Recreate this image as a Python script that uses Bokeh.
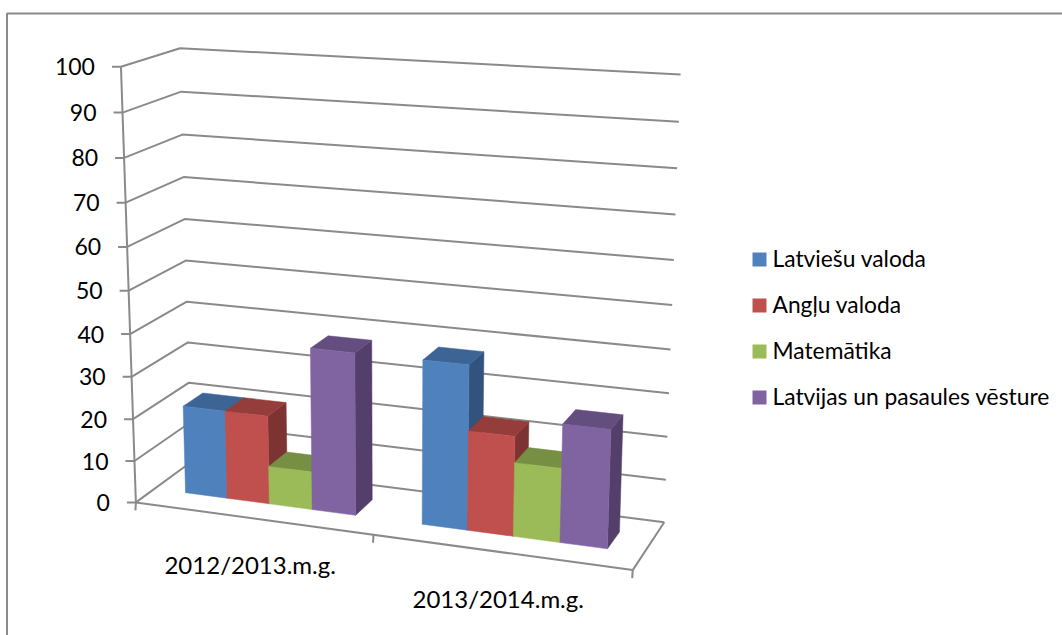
import numpy as np
from bokeh.plotting import figure
from bokeh.embed import file_html
from bokeh.resources import INLINE
from bokeh.core.properties import value

categories = ["2012/2013.m.g.", "2013/2014.m.g."]
series_names = ["Latviešu valoda", "Angļu valoda", "Matemātika", "Latvijas un pasaules vēsture"]
latviesu = [21, 38]
anglu = [21, 23]
matematika = [9, 17]
vesture = [38, 27]
y_ticks = [0, 10, 20, 30, 40, 50, 60, 70, 80, 90, 100]
front_colors = ["#4F81BD", "#C0504D", "#9BBB59", "#8064A2"]
top_colors = ["#3C6494", "#943D3B", "#778F43", "#644E80"]
side_colors = ["#32537D", "#7D3331", "#647A38", "#543F6B"]
grey = "#8A8A8A"
FONT = "Lato"

# perspective camera: (category, value, depth) -> page pixels
anchors = [((0, 0, 0), (136, 502)), ((0, 100, 0), (120, 66)), ((2, 0, 0), (632, 569)),
           ((0, 0, 1), (190, 461)), ((0, 100, 1), (180, 48)), ((2, 0, 1), (664, 522)),
           ((2, 100, 1), (680, 74)), ((1, 0, 0), (373, 535))]
A = []
b = []
for (X, Y, Z), (u, v) in anchors:
    A.append([X, Y, Z, 1, 0, 0, 0, 0, -u * X, -u * Y, -u * Z]); b.append(u)
    A.append([0, 0, 0, 0, X, Y, Z, 1, -v * X, -v * Y, -v * Z]); b.append(v)
m = np.linalg.lstsq(np.array(A, float), np.array(b, float), rcond=None)[0]
M = np.append(m, 1).reshape(3, 4)


def proj(X, Y, Z):
    r = M @ np.array([X, Y, Z, 1.0])
    return r[0] / r[2], r[1] / r[2]


p = figure(width=1062, height=635, x_range=(0, 1062), y_range=(635, 0), output_backend="svg",
           toolbar_location=None, min_border=0, outline_line_color=None)
p.axis.visible = False
p.grid.visible = False


def seg(a, b, w=2):
    p.line([a[0], b[0]], [a[1], b[1]], line_color=grey, line_width=w)


# chart frame
p.line([1062, 6.5, 6.5], [13, 13, 635], line_color=grey, line_width=2)

# gridlines and left wall
for t in y_ticks:
    f, bl, br = proj(0, t, 0), proj(0, t, 1), proj(2, t, 1)
    p.line([f[0], bl[0], br[0]], [f[1], bl[1], br[1]], line_color=grey, line_width=2)
    seg((f[0] - 9, f[1]), f)
    p.text([f[0] - 26], [f[1]], text=[str(t)], text_font=value(FONT), text_font_size="23px",
           text_align="right", text_baseline="middle", text_color="#000000")
seg(proj(0, 100, 0), proj(0, 0, 0))
# floor
a, b_, c = proj(0, 0, 0), proj(2, 0, 0), proj(2, 0, 1)
p.line([a[0], b_[0], c[0]], [a[1], b_[1], c[1]], line_color=grey, line_width=2)
for g in range(3):
    t = proj(g, 0, 0)
    seg(t, (t[0] - 0.5, t[1] + 8))

# bars
w = 1 / 5.5
z0, z1 = 0.33, 0.69
all_values = [latviesu, anglu, matematika, vesture]
for g in range(2):
    for s, vals in enumerate(all_values):
        x0 = g + 0.75 * w + s * w
        x1 = x0 + w
        v = vals[g]
        faces = [
            ([(x1, 0, z0), (x1, 0, z1), (x1, v, z1), (x1, v, z0)], side_colors[s]),
            ([(x0, v, z0), (x1, v, z0), (x1, v, z1), (x0, v, z1)], top_colors[s]),
            ([(x0, 0, z0), (x1, 0, z0), (x1, v, z0), (x0, v, z0)], front_colors[s]),
        ]
        for pts, col in faces:
            xy = [proj(*q) for q in pts]
            p.patch([q[0] for q in xy], [q[1] for q in xy], fill_color=col, line_color=col, line_width=0.5)

# category labels
for g, name in enumerate(categories):
    cx, cy = proj(g + 0.5, 0, 0)
    p.text([cx - 2], [cy + 47 - 0.5], text=[name], text_font=value(FONT), text_font_size="24px",
           text_align="center", text_baseline="middle", text_color="#000000")

# legend
for i, name in enumerate(series_names):
    yc = 259 + i * 46
    p.quad(left=[752], right=[766], top=[yc - 7], bottom=[yc + 7], fill_color=front_colors[i], line_color=None)
    p.text([772], [yc - 2], text=[name], text_font=value(FONT), text_font_size="22.8px",
           text_align="left", text_baseline="middle", text_color="#000000")

open("out.html", "w").write(file_html(p, INLINE))
